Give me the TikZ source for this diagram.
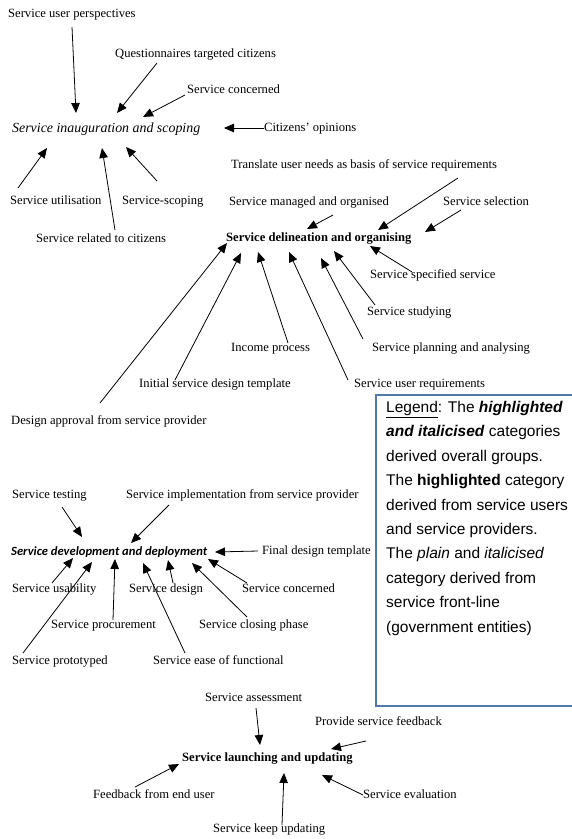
\documentclass[tikz,border=0pt]{standalone}
\usepackage{fontspec}
\setmainfont{Liberation Serif}
\newfontfamily\legendfont{Liberation Sans}
\newfontfamily\calibrifont{Carlito}
\usepackage{xcolor}
\usepackage{tikz}
\usetikzlibrary{arrows.meta,calc}

\definecolor{legendblue}{RGB}{79,122,170}

\begin{document}
\begin{tikzpicture}[x=1pt, y=-1pt,
        lbl/.style={anchor=west, inner sep=0pt, text height=9pt, text depth=2pt, font=\fontsize{12.6}{15}\selectfont},
        headit/.style={lbl, font=\fontsize{13.9}{15}\selectfont\itshape},
        headbf/.style={lbl, font=\fontsize{12.6}{15}\selectfont\bfseries},
        headsans/.style={lbl, font=\calibrifont\fontsize{12.6}{15}\selectfont\bfseries\itshape},
        legend/.style={anchor=north west, inner sep=0pt, align=left, font=\legendfont\fontsize{15.5}{24.4}\selectfont},
        arrow/.style={-{Triangle[length=10pt,width=8.5pt]}, line width=0.8pt}
    ]
    \useasboundingbox (0,0) rectangle (571,839);

    % Service inauguration and scoping
    \node[headit] (inaug) at (12,129) {Service inauguration and scoping};
    \node[lbl] (usp) at (8,14) {Service user perspectives};
    \node[lbl] (qtc) at (115,54) {Questionnaires targeted citizens};
    \node[lbl] (sc1) at (187,90) {Service concerned};
    \node[lbl] (cop) at (264,128) {Citizens' opinions};
    \node[lbl] (sut) at (10,201) {Service utilisation};
    \node[lbl] (ssc) at (122,201) {Service-scoping};
    \node[lbl] (src) at (36,239) {Service related to citizens};

    \draw[arrow] ($(usp.west)+(64,13)$) -- ($(inaug.west)+(64,-16)$);
    \draw[arrow] ($(qtc.west)+(42,9)$) -- ($(inaug.west)+(105,-16)$);
    \draw[arrow] ($(sc1.west)+(-2,5)$) -- ($(inaug.west)+(131,-12)$);
    \draw[arrow] (cop.west) -- ($(inaug.west)+(212,-1)$);
    \draw[arrow] ($(sut.west)+(8,-13)$) -- ($(inaug.west)+(35,19)$);
    \draw[arrow] ($(ssc.west)+(35,-20)$) -- ($(inaug.west)+(114,18)$);
    \draw[arrow] ($(src.west)+(79,-9)$) -- ($(inaug.west)+(90,19)$);

    % Service delineation and organising
    \node[headbf] (deli) at (226,238) {Service delineation and organising};
    \node[lbl] (tun) at (231,165) {Translate user needs as basis of service requirements};
    \node[lbl] (smo) at (229,202) {Service managed and organised};
    \node[lbl] (ssel) at (443,202) {Service selection};
    \node[lbl] (sss) at (370,275) {Service specified service};
    \node[lbl] (sstu) at (367,312) {Service studying};
    \node[lbl] (spa) at (372,348) {Service planning and analysing};
    \node[lbl] (ip) at (231,348) {Income process};
    \node[lbl] (sur) at (354,384) {Service user requirements};
    \node[lbl] (isdt) at (139,384) {Initial service design template};
    \node[lbl] (dap) at (11,421) {Design approval from service provider};

    \draw[arrow] ($(smo.west)+(104,13)$) -- ($(deli.west)+(81,-9)$);
    \draw[arrow] ($(tun.west)+(227,13)$) -- ($(deli.west)+(152,-8)$);
    \draw[arrow] ($(ssel.west)+(18,8)$) -- ($(deli.west)+(199,-6)$);
    \draw[arrow] ($(sss.west)+(42,-3)$) -- ($(deli.west)+(144,8)$);
    \draw[arrow] ($(sstu.west)+(8,-7)$) -- ($(deli.west)+(108,13)$);
    \draw[arrow] ($(spa.west)+(-9,-9)$) -- ($(deli.west)+(95,20)$);
    \draw[arrow] ($(ip.west)+(57,-5)$) -- ($(deli.west)+(32,14)$);
    \draw[arrow] ($(sur.west)+(-6,-4)$) -- ($(deli.west)+(63,14)$);
    \draw[arrow] ($(isdt.west)+(36,-4)$) -- ($(deli.west)+(15,15)$);
    \draw[arrow] ($(dap.west)+(89,-18)$) -- ($(deli.west)+(1,5)$);

    % Legend
    \draw[legendblue, line width=1.2pt] (376,395) rectangle (580,706);
    \node[legend] (leg) at (386,401) {\underline{Legend}: The \textbf{\textit{highlighted}}\\
        \textbf{\textit{and italicised}} categories\\
        derived overall groups.\\
        The \textbf{highlighted} category\\
        derived from service users\\
        and service providers.\\
        The \textit{plain} and \textit{italicised}\\
        category derived from\\
        service front-line\\
        (government entities)};

    % Service development and deployment
    \node[headsans] (dev) at (11,552) {Service development and deployment};
    \node[lbl] (stest) at (12,495) {Service testing};
    \node[lbl] (simp) at (126,495) {Service implementation from service provider};
    \node[lbl] (fdt) at (262,551) {Final design template};
    \node[lbl] (suse) at (12,589) {Service usability};
    \node[lbl] (sdes) at (129,589) {Service design};
    \node[lbl] (sc2) at (242,589) {Service concerned};
    \node[lbl] (sproc) at (51,625) {Service procurement};
    \node[lbl] (sclose) at (199,625) {Service closing phase};
    \node[lbl] (sproto) at (12,661) {Service prototyped};
    \node[lbl] (sease) at (153,661) {Service ease of functional};

    \draw[arrow] ($(stest.west)+(50,12)$) -- ($(dev.west)+(71,-15)$);
    \draw[arrow] ($(simp.west)+(43,10)$) -- ($(dev.west)+(120,-9)$);
    \draw[arrow] ($(fdt.west)+(-4,0)$) -- ($(dev.west)+(204,0)$);
    \draw[arrow] ($(suse.west)+(40,-6)$) -- ($(dev.west)+(62,6)$);
    \draw[arrow] ($(sdes.west)+(44,-6)$) -- ($(dev.west)+(157,8)$);
    \draw[arrow] ($(sc2.west)+(5,-6)$) -- ($(dev.west)+(197,7)$);
    \draw[arrow] ($(sproc.west)+(62,-5)$) -- ($(dev.west)+(104,7)$);
    \draw[arrow] ($(sclose.west)+(48,-8)$) -- ($(dev.west)+(181,11)$);
    \draw[arrow] ($(sproto.west)+(11,-8)$) -- ($(dev.west)+(81,10)$);
    \draw[arrow] ($(sease.west)+(32,-8)$) -- ($(dev.west)+(132,11)$);

    % Service launching and updating
    \node[headbf] (laun) at (182,758) {Service launching and updating};
    \node[lbl] (sass) at (205,698) {Service assessment};
    \node[lbl] (psf) at (315,722) {Provide service feedback};
    \node[lbl] (feu) at (93,795) {Feedback from end user};
    \node[lbl] (seval) at (363,795) {Service evaluation};
    \node[lbl] (sku) at (213,829) {Service keep updating};

    \draw[arrow] ($(sass.west)+(51,10)$) -- ($(laun.west)+(78,-13)$);
    \draw[arrow] ($(psf.west)+(51,19)$) -- ($(laun.west)+(149,-9)$);
    \draw[arrow] ($(feu.west)+(42,-8)$) -- ($(laun.west)+(-3,6)$);
    \draw[arrow] (seval.west) -- ($(laun.west)+(140,17)$);
    \draw[arrow] ($(sku.west)+(69,-4)$) -- ($(laun.west)+(102,15)$);

\end{tikzpicture}
\end{document}
